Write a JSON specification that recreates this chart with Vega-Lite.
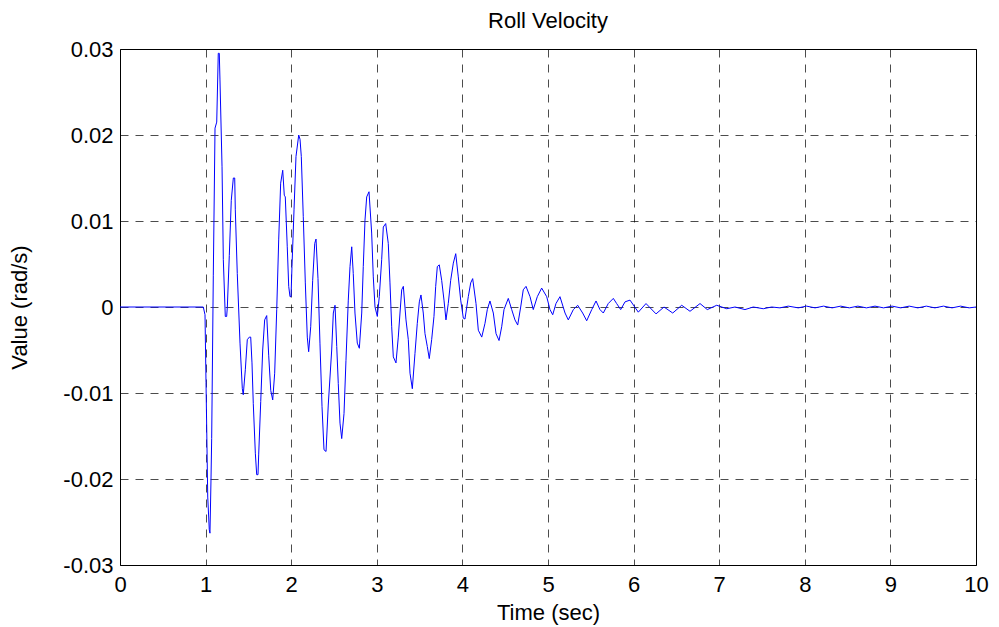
{
  "$schema": "https://vega.github.io/schema/vega-lite/v6.json",
  "width": 856,
  "height": 516,
  "autosize": "none",
  "padding": {"left": 120, "top": 49, "right": 23, "bottom": 62},
  "background": "white",
  "title": {"text": "Roll Velocity", "fontSize": 22, "fontWeight": "normal", "color": "black", "font": "Liberation Sans", "offset": 5, "anchor": "middle"},
  "data": {"values": [
    {"t":0,"v":0},{"t":0.973,"v":0},{"t":0.993,"v":-0.0009},{"t":1.005,"v":-0.0088},{"t":1.025,"v":-0.0221},{"t":1.043,"v":-0.0259},{"t":1.051,"v":-0.0263},{"t":1.063,"v":-0.0201},{"t":1.071,"v":-0.0153},{"t":1.09,"v":0.0037},{"t":1.11,"v":0.0208},{"t":1.13,"v":0.0215},{"t":1.148,"v":0.0295},{"t":1.16,"v":0.0295},{"t":1.168,"v":0.0264},{"t":1.192,"v":0.0163},{"t":1.207,"v":0.0055},{"t":1.23,"v":-0.0011},{"t":1.246,"v":-0.0011},{"t":1.254,"v":0},{"t":1.277,"v":0.006},{"t":1.3,"v":0.0124},{"t":1.324,"v":0.015},{"t":1.34,"v":0.015},{"t":1.347,"v":0.0113},{"t":1.37,"v":0.0039},{"t":1.402,"v":-0.0042},{"t":1.429,"v":-0.0095},{"t":1.44,"v":-0.0102},{"t":1.464,"v":-0.0073},{"t":1.487,"v":-0.0038},{"t":1.511,"v":-0.0035},{"t":1.527,"v":-0.0035},{"t":1.542,"v":-0.0065},{"t":1.557,"v":-0.0112},{"t":1.581,"v":-0.017},{"t":1.597,"v":-0.0195},{"t":1.612,"v":-0.0195},{"t":1.62,"v":-0.0172},{"t":1.644,"v":-0.011},{"t":1.667,"v":-0.005},{"t":1.69,"v":-0.0015},{"t":1.714,"v":-0.001},{"t":1.737,"v":-0.0056},{"t":1.761,"v":-0.0097},{"t":1.784,"v":-0.0108},{"t":1.807,"v":-0.0077},{"t":1.831,"v":-0.0003},{"t":1.854,"v":0.0078},{"t":1.877,"v":0.0144},{"t":1.901,"v":0.0159},{"t":1.919,"v":0.013},{"t":1.931,"v":0.0128},{"t":1.954,"v":0.007},{"t":1.971,"v":0.0024},{"t":1.986,"v":0.0012},{"t":1.998,"v":0.0012},{"t":2.009,"v":0.0047},{"t":2.033,"v":0.0113},{"t":2.056,"v":0.0175},{"t":2.088,"v":0.02},{"t":2.103,"v":0.0195},{"t":2.118,"v":0.0175},{"t":2.141,"v":0.0105},{"t":2.165,"v":0.0028},{"t":2.188,"v":-0.0035},{"t":2.204,"v":-0.0052},{"t":2.228,"v":-0.0023},{"t":2.251,"v":0.0031},{"t":2.275,"v":0.0074},{"t":2.29,"v":0.0079},{"t":2.313,"v":0.0033},{"t":2.336,"v":-0.0042},{"t":2.36,"v":-0.0116},{"t":2.383,"v":-0.0166},{"t":2.407,"v":-0.0168},{"t":2.433,"v":-0.0114},{"t":2.473,"v":-0.005},{"t":2.492,"v":-0.0007},{"t":2.512,"v":0.0002},{"t":2.532,"v":-0.0046},{"t":2.55,"v":-0.0089},{"t":2.57,"v":-0.0135},{"t":2.59,"v":-0.0153},{"t":2.617,"v":-0.0124},{"t":2.64,"v":-0.0062},{"t":2.667,"v":0.0008},{"t":2.687,"v":0.0047},{"t":2.707,"v":0.007},{"t":2.725,"v":0.0039},{"t":2.745,"v":-0.0007},{"t":2.772,"v":-0.0042},{"t":2.796,"v":-0.0048},{"t":2.824,"v":-0.0007},{"t":2.842,"v":0.0047},{"t":2.862,"v":0.0101},{"t":2.882,"v":0.0128},{"t":2.909,"v":0.0134},{"t":2.94,"v":0.0086},{"t":2.959,"v":0.0035},{"t":2.979,"v":0},{"t":3.006,"v":-0.0011},{"t":3.029,"v":0.0012},{"t":3.057,"v":0.0055},{"t":3.076,"v":0.0093},{"t":3.104,"v":0.0097},{"t":3.134,"v":0.0074},{"t":3.154,"v":0.0028},{"t":3.174,"v":-0.0023},{"t":3.193,"v":-0.0058},{"t":3.224,"v":-0.0065},{"t":3.251,"v":-0.0035},{"t":3.271,"v":-0.0007},{"t":3.291,"v":0.002},{"t":3.31,"v":0.0024},{"t":3.341,"v":-0.0015},{"t":3.368,"v":-0.0038},{"t":3.388,"v":-0.0077},{"t":3.415,"v":-0.0095},{"t":3.446,"v":-0.0054},{"t":3.473,"v":-0.0019},{"t":3.497,"v":0.0006},{"t":3.516,"v":0.0014},{"t":3.543,"v":-0.0007},{"t":3.563,"v":-0.0031},{"t":3.59,"v":-0.0046},{"t":3.613,"v":-0.006},{"t":3.641,"v":-0.0038},{"t":3.668,"v":-0.0011},{"t":3.688,"v":0.0024},{"t":3.707,"v":0.0047},{"t":3.73,"v":0.0049},{"t":3.758,"v":0.0031},{"t":3.785,"v":0.0008},{"t":3.808,"v":-0.0015},{"t":3.835,"v":0.0004},{"t":3.863,"v":0.0031},{"t":3.894,"v":0.0051},{"t":3.922,"v":0.0062},{"t":3.952,"v":0.0035},{"t":3.98,"v":0.0008},{"t":4.011,"v":-0.0013},{"t":4.03,"v":-0.0014},{"t":4.069,"v":0.0012},{"t":4.097,"v":0.0028},{"t":4.12,"v":0.0033},{"t":4.159,"v":0.0004},{"t":4.186,"v":-0.0027},{"t":4.226,"v":-0.0035},{"t":4.264,"v":-0.0019},{"t":4.291,"v":-0.0003},{"t":4.322,"v":0.0007},{"t":4.361,"v":-0.0007},{"t":4.393,"v":-0.0031},{"t":4.428,"v":-0.0039},{"t":4.459,"v":-0.0023},{"t":4.486,"v":-0.0003},{"t":4.536,"v":0.001},{"t":4.576,"v":-0.0003},{"t":4.614,"v":-0.0015},{"t":4.646,"v":-0.0021},{"t":4.681,"v":0},{"t":4.711,"v":0.002},{"t":4.743,"v":0.0024},{"t":4.79,"v":0.0012},{"t":4.828,"v":-0.0003},{"t":4.875,"v":0.0012},{"t":4.926,"v":0.0022},{"t":4.985,"v":0.0012},{"t":5.023,"v":-0.0003},{"t":5.055,"v":-0.0009},{"t":5.093,"v":0.0004},{"t":5.14,"v":0.0012},{"t":5.199,"v":-0.0007},{"t":5.237,"v":-0.0015},{"t":5.296,"v":-0.0003},{"t":5.347,"v":0.0002},{"t":5.405,"v":-0.0007},{"t":5.452,"v":-0.0016},{"t":5.511,"v":-0.0003},{"t":5.561,"v":0.0007},{"t":5.607,"v":-0.0003},{"t":5.646,"v":-0.0007},{"t":5.704,"v":0.0004},{"t":5.763,"v":0.001},{"t":5.802,"v":0.0004},{"t":5.849,"v":-0.0003},{"t":5.9,"v":0.0006},{"t":5.958,"v":0.0008},{"t":6.055,"v":-0.0006},{"t":6.145,"v":0.0004},{"t":6.262,"v":-0.0008},{"t":6.355,"v":0},{"t":6.457,"v":-0.0007},{"t":6.562,"v":0.0002},{"t":6.659,"v":-0.0005},{"t":6.776,"v":0.0004},{"t":6.861,"v":-0.0003},{"t":6.971,"v":0.0002},{"t":7.088,"v":-0.0002},{"t":7.185,"v":0},{"t":7.301,"v":-0.0003},{"t":7.398,"v":0},{"t":7.515,"v":-0.0002},{"t":7.613,"v":0},{"t":7.71,"v":-0.0001},{"t":7.807,"v":0.0001},{"t":7.924,"v":-0.0001},{"t":8.02,"v":0.0001},{"t":8.12,"v":-0.0001},{"t":8.22,"v":0.0001},{"t":8.32,"v":-0.0001},{"t":8.42,"v":0.0001},{"t":8.52,"v":-0.0001},{"t":8.62,"v":0.0001},{"t":8.72,"v":-0.0001},{"t":8.82,"v":0.0001},{"t":8.92,"v":-0.0001},{"t":9.02,"v":0.0001},{"t":9.12,"v":-0.0001},{"t":9.22,"v":0.0001},{"t":9.32,"v":-0.0001},{"t":9.42,"v":0.0001},{"t":9.52,"v":-0.0001},{"t":9.62,"v":0.0001},{"t":9.72,"v":-0.0001},{"t":9.82,"v":0.0001},{"t":9.92,"v":-0.0001},{"t":10,"v":0}
  ]},
  "mark": {"type": "line", "color": "#0000ff", "strokeWidth": 1, "clip": true},
  "encoding": {
    "x": {"field": "t", "type": "quantitative", "title": "Time  (sec)",
      "scale": {"domain": [0, 10], "nice": false, "zero": false},
      "axis": {"values": [0,1,2,3,4,5,6,7,8,9,10], "labelPadding": 9, "titlePadding": 7, "labelFlush": false}},
    "y": {"field": "v", "type": "quantitative", "title": "Value  (rad/s)",
      "scale": {"domain": [-0.03, 0.03], "nice": false, "zero": false},
      "axis": {"values": [-0.03,-0.02,-0.01,0,0.01,0.02,0.03], "labelPadding": 7, "titlePadding": 31, "labelFlush": false,
        "labelExpr": "datum.value == 0 ? '0' : (datum.value < 0 ? '-' : '') + format(abs(datum.value), '.2f')"}}
  },
  "config": {
    "font": "Liberation Sans",
    "view": {"stroke": "black", "strokeWidth": 1},
    "axis": {"grid": true, "gridColor": "#000000", "gridDash": [8, 7], "gridOpacity": 0.7, "gridWidth": 1,
      "domain": false, "ticks": false, "labelFontSize": 22, "labelColor": "black", "labelFont": "Liberation Sans",
      "titleFontSize": 22, "titleFontWeight": "normal", "titleColor": "black", "titleFont": "Liberation Sans"}
  }
}
